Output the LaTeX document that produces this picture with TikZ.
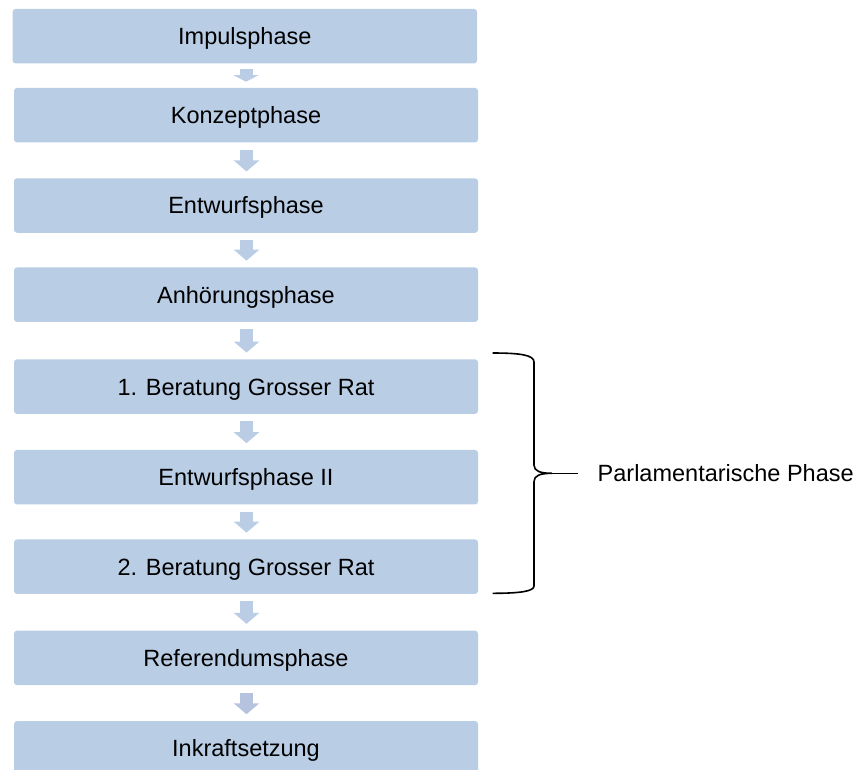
\documentclass[tikz,border=0pt]{standalone}
\usepackage{fontspec}
\setmainfont{Liberation Sans}
\usetikzlibrary{arrows.meta,calc}
\definecolor{boxblue}{HTML}{B9CDE5}
\definecolor{arrblue}{HTML}{BACDE5}
\definecolor{arrlast}{HTML}{B5C3DF}
\tikzset{
  phasebox/.style={fill=boxblue, draw=none, rounded corners=3pt, minimum width=464pt,
    minimum height=54.5pt, inner sep=0pt, text height=16.8pt, text depth=0pt,
    font=\fontsize{23.5pt}{27pt}\selectfont, align=center},
  flowarrow/.style={draw=arrblue, line width=13pt, -{Triangle[width=25pt,length=11pt]}},
  smallarrow/.style={draw=arrblue, line width=13pt, -{Triangle[width=25pt,length=6.7pt]}},
  bracketline/.style={draw=black, line width=1.6pt},
  sidelabel/.style={font=\fontsize{23.5pt}{27pt}\selectfont, inner sep=0pt, text height=16.8pt, text depth=0pt, anchor=west}
}
\begin{document}
\begin{tikzpicture}[x=1pt,y=-1pt]
\useasboundingbox (0,0) rectangle (858,769);
\node[phasebox, minimum width=464.5pt] (b1) at (244.8,36.2) {Impulsphase};
\node[phasebox] (b2) at (246,115.2) {Konzeptphase};
\node[phasebox] (b3) at (246,205.5) {Entwurfsphase};
\node[phasebox] (b4) at (246,294.7) {Anhörungsphase};
\node[phasebox] (b5) at (246,386.6) {1. Beratung Grosser Rat};
\node[phasebox] (b6) at (246,477.2) {Entwurfsphase II};
\node[phasebox] (b7) at (246,566.7) {2. Beratung Grosser Rat};
\node[phasebox] (b8) at (246,657.9) {Referendumsphase};
\node[phasebox] (b9) at (246,748.3) {Inkraftsetzung};

\draw[smallarrow] ([xshift=1.2pt,yshift=-5pt]b1.south) -- ([yshift=6pt]b2.north);
\draw[flowarrow] ([xshift=0.5pt,yshift=-7.3pt]b2.south) -- ([xshift=0.5pt,yshift=6.6pt]b3.north);
\draw[flowarrow] ([xshift=0.5pt,yshift=-7.3pt]b3.south) -- ([xshift=0.5pt,yshift=6.6pt]b4.north);
\draw[flowarrow] ([xshift=0.5pt,yshift=-7.3pt]b4.south) -- ([xshift=0.5pt,yshift=6.6pt]b5.north);
\draw[flowarrow] ([xshift=0.5pt,yshift=-7.3pt]b5.south) -- ([xshift=0.5pt,yshift=6.6pt]b6.north);
\draw[flowarrow] ([xshift=0.5pt,yshift=-7.3pt]b6.south) -- ([xshift=0.5pt,yshift=6.6pt]b7.north);
\draw[flowarrow] ([xshift=0.5pt,yshift=-7.3pt]b7.south) -- ([xshift=0.5pt,yshift=6.6pt]b8.north);
\draw[flowarrow, draw=arrlast] ([xshift=0.5pt,yshift=-7.3pt]b8.south) -- ([xshift=0.5pt,yshift=6.6pt]b9.north);

\coordinate (btop) at (492.7,353);
\coordinate (bbot) at (492.7,593.3);
\coordinate (btip) at (552,473.3);
\node[sidelabel] (lbl) at (597.5,473.3) {Parlamentarische Phase};
\draw[bracketline] (btop) .. controls (520,353) and (534,355) .. (534,362)
  -- (534,465) .. controls (534,471) and (540,473.3) .. (btip)
  .. controls (540,473.3) and (534,475.6) .. (534,481.6)
  -- (534,586) .. controls (534,591.3) and (520,593.3) .. (bbot);
\draw[bracketline] (btip) -- (577.5,473.3);
\end{tikzpicture}
\end{document}
